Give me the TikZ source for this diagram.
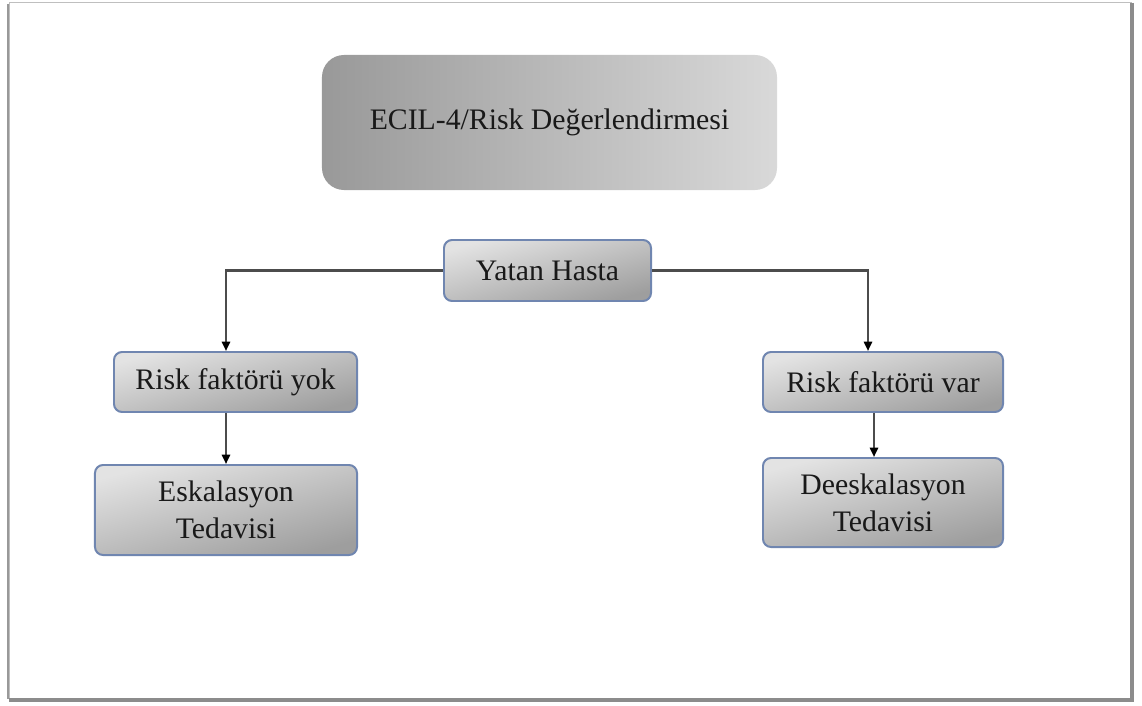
\documentclass[tikz,border=0pt]{standalone}
\usepackage{fontspec}
\setmainfont{Liberation Serif}
\usetikzlibrary{arrows.meta}
\definecolor{boxedge}{RGB}{112,134,176}
\definecolor{inktext}{RGB}{25,25,25}
\begin{document}
\begin{tikzpicture}[x=0.03cm,y=-0.03cm]
\useasboundingbox (0,0) rectangle (1142,706);
% cerceve
\draw[black!25, line width=0.8pt] (9,2) rectangle (1131,698);
\draw[black!40, line width=2.2pt] (8,4) -- (8,699);
\draw[black!45, line width=2.6pt] (1132,3) -- (1132,700) -- (9,700);
\begin{scope}[every node/.style={rounded corners=0.24cm,draw=boxedge,line width=1.7pt,
        shading=axis,top color=black!11,bottom color=black!38,shading angle=15,
        inner sep=0pt,align=center,text=inktext,font=\fontsize{25.4}{31.5}\selectfont}]
    \node[draw=none,rounded corners=0.66cm,shading angle=0,left color=black!40,right color=black!15,
          minimum width=13.65cm,minimum height=4.05cm] (ecil) at (549.5,122.5) {ECIL-4/Risk Değerlendirmesi};
    \node[minimum width=6.21cm,minimum height=1.83cm] (yatan) at (547.5,270.5) {Yatan Hasta};
    \node[minimum width=7.29cm,minimum height=1.8cm] (yok) at (235.5,382) {Risk faktörü yok};
    \node[minimum width=7.2cm,minimum height=1.8cm] (var) at (883,382) {Risk faktörü var};
    \node[minimum width=7.86cm,minimum height=2.7cm] (esk) at (226,510) {Eskalasyon\\Tedavisi};
    \node[minimum width=7.2cm,minimum height=2.67cm] (desk) at (883,502.5) {Deeskalasyon\\Tedavisi};
\end{scope}
\begin{scope}[>={Triangle[length=8pt,width=7pt,black]},
              every edge/.style={draw=black!70,line width=1.8pt}]
    % yatan hasta -> risk
    \draw[->,black!70,line width=1.8pt] (yatan.west) -| (esk.north |- yok.north);
    \draw[->,black!70,line width=1.8pt] (yatan.east) -| ([xshift=-0.45cm]var.north);
    % risk -> tedavi
    \path [->] (esk.north |- yok.south) edge (esk.north);
    \path [->] ([xshift=-0.27cm]var.south) edge ([xshift=-0.27cm]desk.north);
\end{scope}
\end{tikzpicture}
\end{document}
